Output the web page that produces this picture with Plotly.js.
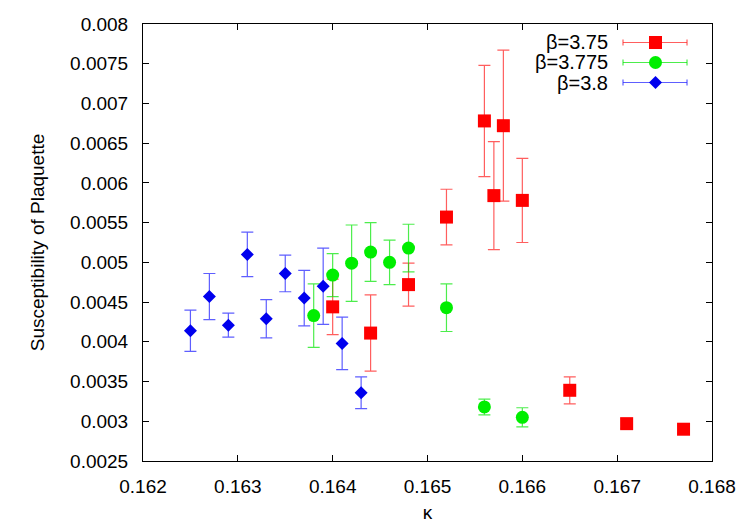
<!DOCTYPE html>
<html>
<head>
<meta charset="utf-8">
<script src="https://cdn.plot.ly/plotly-3.0.1.min.js"></script>
<style>
  html, body { margin: 0; padding: 0; background: #fff; }
  #chart { width: 747px; height: 523px; }
</style>
</head>
<body>
<div id="chart"></div>
<script>
// beta = 3.75
const kappa375 = [0.1640, 0.1644, 0.1648, 0.1652, 0.1656, 0.1657, 0.1658, 0.1660, 0.1665, 0.1671, 0.1677];
const chi375   = [0.00444, 0.00411, 0.00472, 0.00557, 0.00678, 0.00584, 0.00672, 0.00578, 0.00339, 0.00297, 0.00290];
const err375   = [0.00035, 0.00048, 0.00027, 0.00035, 0.00070, 0.00068, 0.00095, 0.00053, 0.00017, 0.00006, 0.00005];

// beta = 3.775
const kappa3775 = [0.1638, 0.1640, 0.1642, 0.1644, 0.1646, 0.1648, 0.1652, 0.1656, 0.1660];
const chi3775   = [0.00433, 0.00484, 0.00499, 0.00513, 0.00500, 0.00518, 0.00443, 0.00318, 0.00305];
const err3775   = [0.00040, 0.00027, 0.00048, 0.00037, 0.00028, 0.00030, 0.00030, 0.00010, 0.00012];

// beta = 3.8
const kappa38 = [0.1625, 0.1627, 0.1629, 0.1631, 0.1633, 0.1635, 0.1637, 0.1639, 0.1641, 0.1643];
const chi38   = [0.00414, 0.00457, 0.00421, 0.00510, 0.00429, 0.00486, 0.00455, 0.00470, 0.00398, 0.00336];
const err38   = [0.00026, 0.00029, 0.00015, 0.00028, 0.00024, 0.00023, 0.00035, 0.00048, 0.00033, 0.00020];

const seriesNames = ['β=3.75', 'β=3.775', 'β=3.8'];

const xTickVals = [0.162, 0.163, 0.164, 0.165, 0.166, 0.167, 0.168];
const xTickText = ['0.162', '0.163', '0.164', '0.165', '0.166', '0.167', '0.168'];
const yTickVals = [0.0025, 0.003, 0.0035, 0.004, 0.0045, 0.005, 0.0055, 0.006, 0.0065, 0.007, 0.0075, 0.008];
const yTickText = ['0.0025', '0.003', '0.0035', '0.004', '0.0045', '0.005', '0.0055', '0.006', '0.0065', '0.007', '0.0075', '0.008'];

const FONT = 'Liberation Sans, Arial, sans-serif';

const styles = [
    { color: '#ff0000', bar: 'rgba(255,40,40,0.75)', symbol: 'square', size: 13 },
    { color: '#00ee00', bar: 'rgba(0,230,0,0.7)', symbol: 'circle', size: 13 },
    { color: '#0000ee', bar: 'rgba(40,40,255,0.75)', symbol: 'diamond', size: 10 },
];

function makeTrace(x, y, err, i) {
    const s = styles[i];
    return {
        x: x,
        y: y,
        type: 'scatter',
        mode: 'markers',
        name: seriesNames[i],
        marker: { color: s.color, symbol: s.symbol, size: s.size, line: { width: 0 } },
        error_y: { type: 'data', array: err, visible: true, color: s.bar, thickness: 1.2, width: 6 },
        showlegend: false,
    };
}

const traces = [
    makeTrace(kappa375, chi375, err375, 0),
    makeTrace(kappa3775, chi3775, err3775, 1),
    makeTrace(kappa38, chi38, err38, 2),
];

// gnuplot style key: text on the left, sample on the right
const keyTextX = 0.8207;
const keyLineX0 = 0.8436, keyLineX1 = 0.9561, keyMarkX = 0.9007;
const keyRows = [0.9577, 0.9119, 0.8661];

const shapes = [];
const annotations = [];
keyRows.forEach((ky, i) => {
    const s = styles[i];
    annotations.push({
        xref: 'paper', yref: 'paper', x: keyTextX, y: ky,
        xanchor: 'right', yanchor: 'middle', showarrow: false,
        text: seriesNames[i], font: { family: FONT, size: 20, color: '#000' },
    });
    shapes.push({ type: 'line', xref: 'paper', yref: 'paper', x0: keyLineX0, x1: keyLineX1, y0: ky, y1: ky,
        line: { color: s.bar, width: 1.2 } });
    [keyLineX0, keyLineX1].forEach(cx => {
        shapes.push({ type: 'line', xref: 'paper', yref: 'paper', xsizemode: 'scaled', ysizemode: 'pixel',
            x0: cx, x1: cx, yanchor: ky, y0: -3, y1: 3, line: { color: s.bar, width: 1.2 } });
    });
    const common = { xref: 'paper', yref: 'paper', xsizemode: 'pixel', ysizemode: 'pixel',
        xanchor: keyMarkX, yanchor: ky, fillcolor: s.color, line: { width: 0 } };
    if (s.symbol === 'square') {
        shapes.push({ ...common, type: 'rect', x0: -6.5, x1: 6.5, y0: -6.5, y1: 6.5 });
    } else if (s.symbol === 'circle') {
        shapes.push({ ...common, type: 'circle', x0: -6.5, x1: 6.5, y0: -6.5, y1: 6.5 });
    } else {
        shapes.push({ ...common, type: 'path', path: 'M -6.5 0 L 0 6.5 L 6.5 0 L 0 -6.5 Z' });
    }
});

const axisCommon = {
    showgrid: false,
    zeroline: false,
    showline: true,
    linecolor: '#000',
    linewidth: 1,
    mirror: 'ticks',
    ticks: 'inside',
    ticklen: 6,
    tickcolor: '#000',
    tickwidth: 1,
    tickfont: { family: FONT, size: 19, color: '#000' },
    tickmode: 'array',
};

const layout = {
    width: 747,
    height: 523,
    margin: { l: 143, r: 35, t: 24, b: 62 },
    paper_bgcolor: '#fff',
    plot_bgcolor: '#fff',
    font: { family: FONT, color: '#000' },
    xaxis: {
        ...axisCommon,
        range: [0.162, 0.168],
        tickvals: xTickVals,
        ticktext: xTickText,
        ticklabelstandoff: 8,
        title: { text: 'κ', font: { family: FONT, size: 19 }, standoff: 12 },
    },
    yaxis: {
        ...axisCommon,
        range: [0.0025, 0.008],
        tickvals: yTickVals,
        ticktext: yTickText,
        ticklabelstandoff: 10,
        title: { text: 'Susceptibility of Plaquette', font: { family: FONT, size: 19 }, standoff: 20 },
    },
    shapes: shapes,
    annotations: annotations,
};

Plotly.newPlot('chart', traces, layout, { displayModeBar: false, staticPlot: true });
</script>
</body>
</html>
